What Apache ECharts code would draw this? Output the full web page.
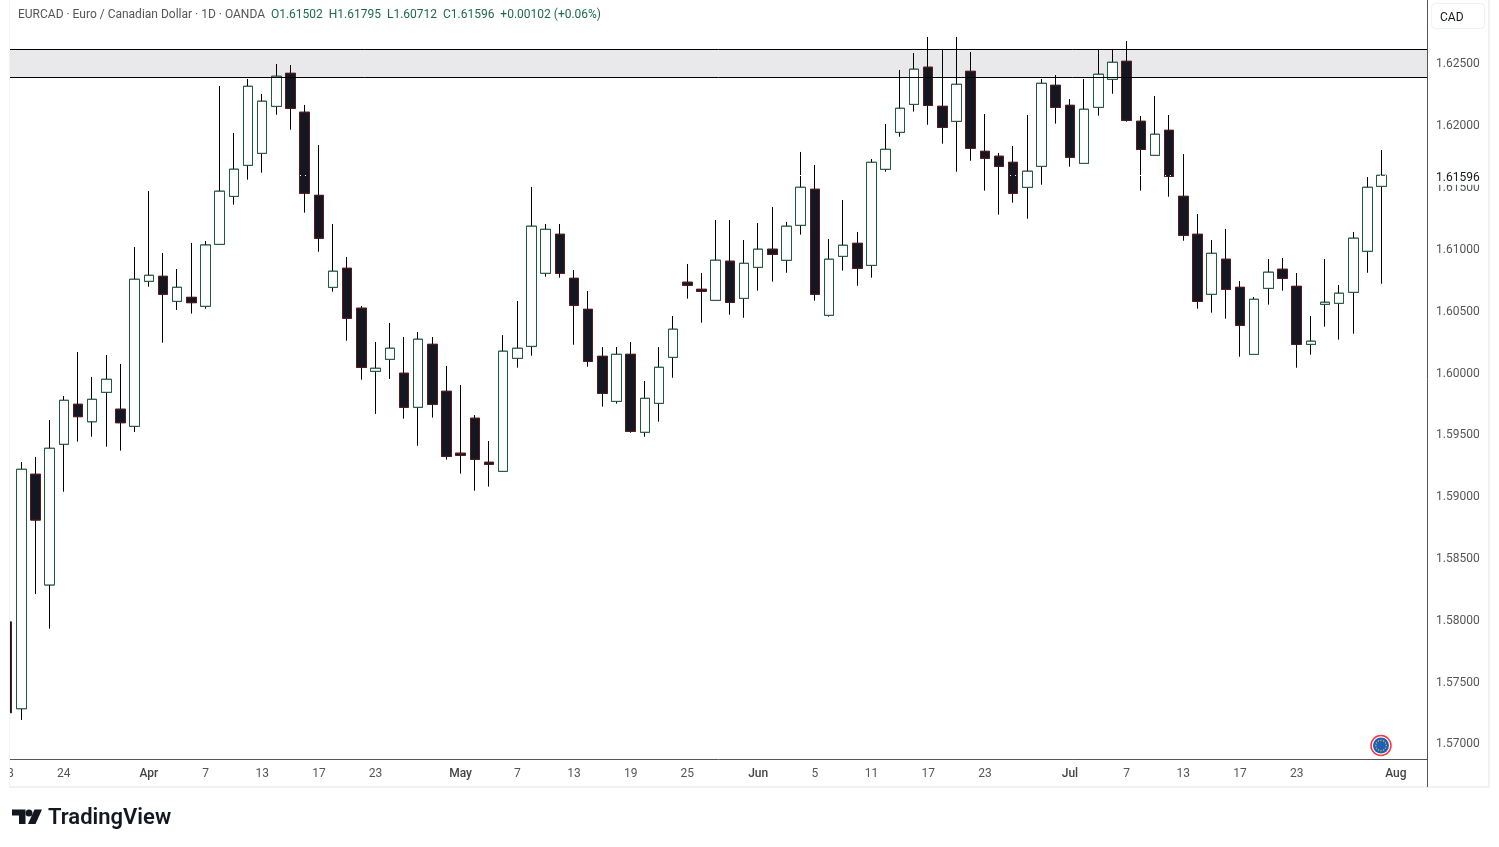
<!DOCTYPE html>
<html><head><meta charset="utf-8">
<style>html,body{margin:0;padding:0;background:#fff}#c{width:1499px;height:847px}</style>
<script src="https://cdn.jsdelivr.net/npm/echarts@6/dist/echarts.min.js"></script>
</head><body><div id="c"></div>
<script>
const opens=[1.57974,1.57273,1.59169,1.58274,1.59412,1.59735,1.59594,1.59832,1.59695,1.59557,
1.60730,1.60770,1.60568,1.60600,1.60528,1.61029,1.61417,1.61668,1.61765,1.62145,
1.62412,1.62097,1.61425,1.60681,1.60835,1.60512,1.60002,1.60099,1.59986,1.59711,
1.60220,1.59840,1.59339,1.59622,1.59266,1.59193,1.60107,1.60204,1.60795,1.61110,
1.60754,1.60503,1.60123,1.59759,1.60139,1.59509,1.59743,1.60115,1.60722,1.60665,
1.60576,1.60892,1.60592,1.60843,1.60989,1.60900,1.61183,1.61474,1.60455,1.60932,
1.61037,1.60859,1.61636,1.61935,1.62161,1.62461,1.62145,1.62024,1.62428,1.61781,
1.61741,1.61692,1.61490,1.61660,1.62315,1.62153,1.61684,1.62137,1.62364,1.62509,
1.62024,1.61749,1.61951,1.61417,1.61110,1.60625,1.60908,1.60681,1.60139,1.60673,
1.60827,1.60689,1.60220,1.60544,1.60552,1.60641,1.60973,1.61498];
const closes=[1.57241,1.59209,1.58799,1.59379,1.59767,1.59635,1.59775,1.59937,1.59586,1.60746,
1.60778,1.60625,1.60681,1.60557,1.61023,1.61458,1.61636,1.62307,1.62186,1.62388,
1.62129,1.61442,1.61078,1.60811,1.60431,1.60034,1.60026,1.60188,1.59711,1.60261,
1.59735,1.59314,1.59323,1.59290,1.59250,1.60164,1.60188,1.61175,1.61150,1.60795,
1.60536,1.60083,1.59824,1.60139,1.59517,1.59783,1.60034,1.60342,1.60698,1.60649,
1.60900,1.60560,1.60875,1.60989,1.60948,1.61175,1.61490,1.60625,1.60908,1.61021,
1.60835,1.61692,1.61797,1.62129,1.62445,1.62153,1.61975,1.62323,1.61806,1.61725,
1.61660,1.61442,1.61620,1.62331,1.62137,1.61733,1.62121,1.62404,1.62501,1.62032,
1.61797,1.61919,1.61579,1.61102,1.60568,1.60956,1.60665,1.60374,1.60584,1.60803,
1.60754,1.60220,1.60245,1.60560,1.60633,1.61078,1.61490,1.61587];
const highs=[1.58031,1.59268,1.59309,1.59608,1.59802,1.60158,1.59956,1.60134,1.60061,1.61007,
1.61460,1.60959,1.60829,1.61040,1.61056,1.62309,1.61929,1.62366,1.62245,1.62487,
1.62479,1.62156,1.61832,1.61193,1.60926,1.60530,1.60239,1.60393,1.60279,1.60320,
1.60279,1.60045,1.59891,1.59648,1.59438,1.60295,1.60570,1.61493,1.61193,1.61193,
1.60821,1.60651,1.60198,1.60198,1.60239,1.59923,1.60198,1.60449,1.60870,1.60797,
1.61226,1.61226,1.61064,1.61201,1.61331,1.61210,1.61776,1.61670,1.61072,1.61387,
1.61129,1.61719,1.62002,1.62439,1.62576,1.62706,1.62609,1.62706,1.62584,1.62083,
1.61768,1.61824,1.62075,1.62366,1.62398,1.62204,1.62366,1.62609,1.62609,1.62673,
1.62067,1.62229,1.62075,1.61759,1.61274,1.61064,1.61153,1.60732,1.60603,1.60910,
1.60918,1.60797,1.60449,1.60910,1.60700,1.61129,1.61573,1.61792];
const lows=[1.57198,1.57182,1.58201,1.57920,1.59028,1.59433,1.59473,1.59392,1.59360,1.59511,
1.60686,1.60233,1.60498,1.60468,1.60508,1.61023,1.61349,1.61552,1.61608,1.62077,
1.61956,1.61285,1.60969,1.60646,1.60249,1.59934,1.59657,1.59940,1.59619,1.59400,
1.59627,1.59287,1.59174,1.59036,1.59069,1.59187,1.60031,1.60128,1.60767,1.60759,
1.60217,1.60039,1.59716,1.59740,1.59505,1.59473,1.59594,1.59950,1.60589,1.60395,
1.60570,1.60460,1.60435,1.60654,1.60727,1.60799,1.61107,1.60573,1.60444,1.60816,
1.60694,1.60759,1.61616,1.61899,1.62102,1.61996,1.61843,1.61616,1.61705,1.61463,
1.61269,1.61366,1.61236,1.61511,1.62005,1.61657,1.61680,1.62069,1.62247,1.62021,
1.61463,1.61745,1.61414,1.61058,1.60508,1.60476,1.60427,1.60120,1.60135,1.60541,
1.60654,1.60031,1.60136,1.60363,1.60258,1.60306,1.60799,1.60710];
const timeTickIndex=[4,10,14,18,22,26,32,36,40,44,48,53,57,61,65,69,75,79,83,87,91,98];
const timeTickLabels=['24','Apr','7','13','17','23','May','7','13','19','25','Jun','5','11','17','23','Jul','7','13','17','23','Aug'];
const priceTicks=[1.57,1.575,1.58,1.585,1.59,1.595,1.60,1.605,1.61,1.615,1.62,1.625];
const bandTop=1.62605, bandBottom=1.62378;
const lastCloseText='1.61596';
const headerName='EURCAD · Euro / Canadian Dollar · 1D · OANDA  ';
const headerOhlc=['O1.61502','H1.61795','L1.60712','C1.61596','+0.00102 (+0.06%)'];

const FONT='Roboto';
const lastClose=closes[closes.length-1];
const wickData=opens.map((o,i)=>[i,o,closes[i],lows[i],highs[i]]);
const bodyData=opens.map((o,i)=>[i,o,closes[i],Math.min(o,closes[i]),Math.max(o,closes[i])]);
const labelByIndex={};timeTickIndex.forEach((v,i)=>labelByIndex[v]=timeTickLabels[i]);

const dots=[];
for(let i=0;i<12;i++){const a=i/12*Math.PI*2;dots.push({type:'circle',z:57,shape:{cx:1381+5.2*Math.cos(a),cy:745.5+5.2*Math.sin(a),r:0.7},style:{fill:'#f2c230'}});}

const chart=echarts.init(document.getElementById('c'),null,{renderer:'canvas'});
chart.setOption({
 animation:false,backgroundColor:'#fff',
 textStyle:{fontFamily:FONT},
 grid:{left:10,top:0,width:1417,height:759},
 xAxis:{type:'value',min:0.2,max:100.2,
  axisLine:{show:true,onZero:false,lineStyle:{color:'#555',width:1}},
  axisTick:{show:false},splitLine:{show:false},
  axisLabel:{customValues:timeTickIndex,margin:9,fontFamily:FONT,fontSize:12,color:'#555',
   formatter:v=>{const t=labelByIndex[v];return /[A-Za-z]/.test(t)?'{m|'+t+'}':t;},
   rich:{m:{fontFamily:FONT,fontSize:12,fontWeight:500,color:'#444'}}}},
 yAxis:{type:'value',position:'right',min:1.56866,max:1.63005,
  axisLine:{show:true,onZero:false,lineStyle:{color:'#555',width:1}},
  axisTick:{show:false},splitLine:{show:false},
  axisLabel:{customValues:priceTicks.concat([lastClose]).sort((a,b)=>a-b),margin:9,padding:[4,0,0,0],fontFamily:FONT,fontSize:12,color:'#555',align:'left',
   formatter:v=>Math.abs(v-lastClose)<1e-9?'{last|'+lastCloseText+'}':v.toFixed(5),
   rich:{last:{color:'#131722',fontFamily:FONT,fontSize:12,backgroundColor:'#fff',padding:[2,2,1,0]}}}},
 series:[
  {name:'zone',type:'line',z:1,data:[[1,bandBottom]],showSymbol:false,silent:true,lineStyle:{opacity:0},
   markArea:{silent:true,itemStyle:{color:'#e9e9eb',borderWidth:0},data:[[{yAxis:bandTop},{yAxis:bandBottom}]]},
   markLine:{silent:true,symbol:'none',precision:5,label:{show:false},lineStyle:{color:'#000',width:1,type:'solid'},data:[{yAxis:bandTop},{yAxis:bandBottom}]}},
  {name:'wicks',type:'candlestick',z:3,barWidth:10,data:wickData,silent:true,
   itemStyle:{color:'transparent',color0:'transparent',borderColor:'#000',borderColor0:'#000',borderWidth:1}},
  {name:'EURCAD',type:'candlestick',z:4,barWidth:10,data:bodyData,silent:true,
   itemStyle:{color:'#ffffff',color0:'#131722',borderColor:'#1e5b3f',borderColor0:'#5d1a1a',borderWidth:1},
   markLine:{silent:true,symbol:'none',precision:5,label:{show:false},z:5,lineStyle:{color:'#fff',width:1,type:[1,4]},data:[{yAxis:lastClose}]}}
 ],
 graphic:{elements:[
  {type:'text',z:50,style:{x:7,y:774,text:'18',align:'center',verticalAlign:'middle',fill:'#555',font:'12px '+FONT}},
  {type:'rect',z:51,shape:{x:0,y:0,width:9,height:847},style:{fill:'#fff'}},
  {type:'rect',z:52,shape:{x:9,y:0,width:1,height:788},style:{fill:'#f1f2f4'}},
  {type:'rect',z:52,shape:{x:9,y:786,width:1481,height:2},style:{fill:'#f1f2f4'}},
  {type:'rect',z:52,shape:{x:1488,y:0,width:2,height:788},style:{fill:'#f1f2f4'}},
  {type:'line',z:52,shape:{x1:1427.5,y1:759,x2:1427.5,y2:787},style:{stroke:'#555',lineWidth:1}},
  {type:'rect',z:53,shape:{x:1431.5,y:3.5,width:53,height:25,r:4},style:{fill:'#fff',stroke:'#f0f1f3',lineWidth:1}},
  {type:'text',z:54,style:{x:1440,y:18,text:'CAD',verticalAlign:'middle',fill:'#131722',font:'12px '+FONT}},
  {type:'text',z:54,style:{x:18,y:15,verticalAlign:'middle',
    text:'{a|'+headerName+'}{b|'+headerOhlc.join('  ')+'}',
    rich:{a:{fill:'#555',fontFamily:FONT,fontSize:12},b:{fill:'#1e6b4a',fontFamily:FONT,fontSize:12}}}},
  {type:'circle',z:55,shape:{cx:1381,cy:745.5,r:10},style:{fill:'#fff',stroke:'#f23645',lineWidth:1.5}},
  {type:'circle',z:56,shape:{cx:1381,cy:745.5,r:8},style:{fill:'#1e5fb8'}},
  {type:'group',z:57,children:dots},
  {type:'polygon',z:58,shape:{points:[[12,809.5],[25.5,809.5],[25.5,824],[19,824],[19,815.5],[12,815.5]]},style:{fill:'#131722'}},
  {type:'circle',z:58,shape:{cx:29,cy:813,r:3.5},style:{fill:'#131722'}},
  {type:'polygon',z:58,shape:{points:[[34.5,809.5],[42,809.5],[35.5,824],[28,824]]},style:{fill:'#131722'}},
  {type:'text',z:58,style:{x:48,y:818.5,text:'TradingView',verticalAlign:'middle',fill:'#131722',font:'600 22px '+FONT}}
 ]}
});
</script></body></html>
